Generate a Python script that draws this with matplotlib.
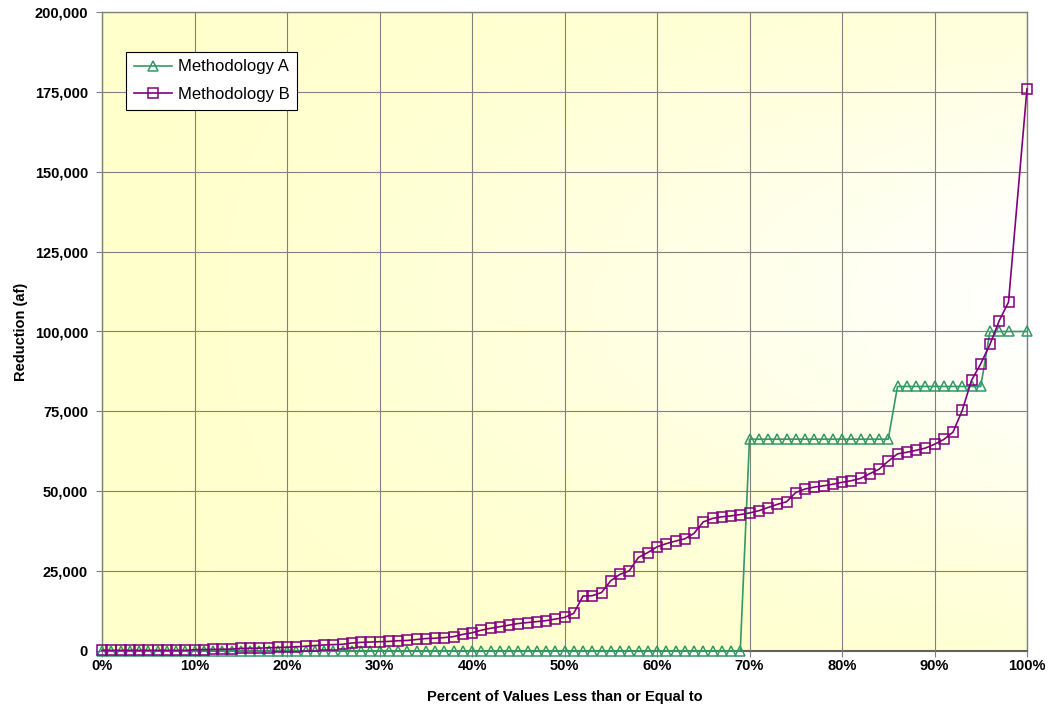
import numpy as np
import matplotlib
matplotlib.use("Agg")
import matplotlib.pyplot as plt
from matplotlib.ticker import FuncFormatter, MultipleLocator

# ---- data ----
pct = list(range(0, 99)) + [100]

method_a = [0] * 70 + [66300] * 16 + [82800] * 10 + [100000, 100000, 100000, 100000]

method_b = [200] * 10 + [
    400, 450, 500, 550, 600, 800, 850, 900, 1000, 1100,            # 10-19
    1200, 1300, 1500, 1700, 1900, 2000, 2100, 2500, 2700, 2800,    # 20-29
    2900, 3000, 3200, 3300, 3600, 3900, 4000, 4200, 4500, 5200,    # 30-39
    5700, 6500, 7100, 7600, 8100, 8600, 8900, 9200, 9500, 10000,   # 40-49
    10500, 11800, 17200, 17300, 18300, 22000, 24000, 25100, 29300, 30800,  # 50-59
    32600, 33600, 34400, 35100, 36800, 40400, 41500, 42000, 42300, 42700,  # 60-69
    43200, 43900, 44900, 45900, 46700, 49600, 50700, 51300, 51700, 52200,  # 70-79
    52800, 53300, 54000, 55500, 56900, 59400, 61700, 62200, 62800, 63500,  # 80-89
    64700, 66200, 68500, 75300, 84700, 89900, 96000, 103400, 109200,      # 90-98
    176000,                                                              # 100
]

series_names = ["Methodology A", "Methodology B"]
x_label = "Percent of Values Less than or Equal to"
y_label = "Reduction (af)"

# ---- figure ----
fig = plt.figure(figsize=(10.5, 7.07), dpi=100)
ax = fig.add_axes([102 / 1050, 1 - 651 / 707, (1027 - 102) / 1050, (651 - 12) / 707])

# gradient background
nx, ny = 300, 200
u = np.linspace(0, 1, nx)[None, :]
v = np.linspace(0, 1, ny)[:, None]
w = (u ** 1.4) * np.exp(-((v - 0.55) / 0.42) ** 2)
w = np.clip(w, 0, 1)
yellow = np.array([1.0, 1.0, 0.80])
white = np.array([1.0, 1.0, 1.0])
img = yellow[None, None, :] * (1 - w[..., None]) + white[None, None, :] * w[..., None]
ax.imshow(img, extent=[0, 100, 0, 200000], origin="lower", aspect="auto", zorder=0,
          interpolation="bilinear")

ax.set_xlim(0, 100)
ax.set_ylim(0, 200000)

ax.xaxis.set_major_locator(MultipleLocator(10))
ax.yaxis.set_major_locator(MultipleLocator(25000))
ax.xaxis.set_major_formatter(FuncFormatter(lambda val, p: f"{int(round(val))}%"))
ax.yaxis.set_major_formatter(FuncFormatter(lambda val, p: f"{int(round(val)):,}"))

ax.grid(True, color="#808080", linewidth=0.8, zorder=1)
ax.set_axisbelow(False)

green = "#339966"
purple = "#800080"

ax.plot(pct, method_a, color=green, linewidth=1.2, marker="^", markersize=7,
        markerfacecolor="none", markeredgecolor=green, markeredgewidth=1.1,
        label=series_names[0], zorder=3, clip_on=False)
ax.plot(pct, method_b, color=purple, linewidth=1.2, marker="s", markersize=6.5,
        markerfacecolor="none", markeredgecolor=purple, markeredgewidth=1.1,
        label=series_names[1], zorder=4, clip_on=False)

for s in ax.spines.values():
    s.set_color("#808080")
    s.set_linewidth(1.0)
ax.spines["bottom"].set_color("#606060")
ax.spines["bottom"].set_linewidth(1.5)

fontfam = ["Liberation Sans", "DejaVu Sans"]
ax.tick_params(axis="both", which="major", direction="out", length=4, width=0.8,
               color="#808080", labelsize=10.5)
ax.tick_params(axis="y", pad=6)
ax.tick_params(axis="x", pad=2)
for lab in ax.get_xticklabels() + ax.get_yticklabels():
    lab.set_fontfamily(fontfam)
    lab.set_fontweight("bold")

ax.set_xlabel(x_label, fontsize=10.5, fontweight="bold", family=fontfam, labelpad=12)
ax.set_ylabel(y_label, fontsize=10.5, fontweight="bold", family=fontfam, labelpad=5)

leg = ax.legend(loc="upper left", bbox_to_anchor=((126 - 102) / 925, (651 - 52) / 639),
                frameon=True, fancybox=False, edgecolor="black", framealpha=1,
                prop={"family": fontfam, "size": 12}, handlelength=2.3,
                handletextpad=0.35, borderpad=0.45, labelspacing=0.75, borderaxespad=0)
leg.get_frame().set_linewidth(0.8)

fig.savefig("out.png", dpi=100)
